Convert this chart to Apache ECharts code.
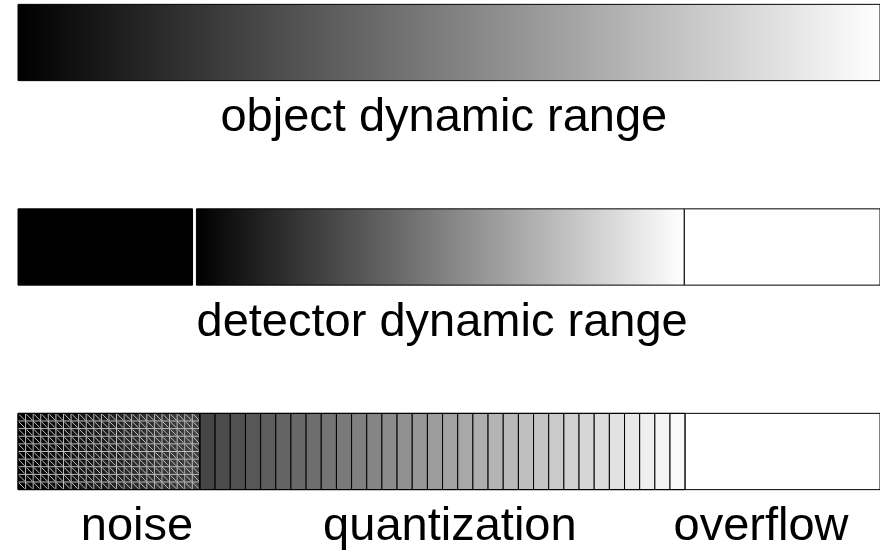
<!DOCTYPE html>
<html><head><meta charset="utf-8">
<script src="https://cdn.jsdelivr.net/npm/echarts@6/dist/echarts.min.js"></script>
<style>html,body{margin:0;padding:0;background:#fff}#c{width:880px;height:550px}</style>
</head><body><div id="c"></div>
<script>
// ---- data ----
// rows: 0 = object, 1 = detector, 2 = recorded (quantized)
const rowNames = ['object', 'detector', 'recorded'];
// segments, x in % of the object dynamic range
const segStart = [0,   0,     20.7, 77.3, 0,     21.1, 77.4];
const segEnd   = [100, 20.25, 77.3, 100,  21.1,  77.4, 100];
const segRow   = [0,   1,     1,    1,    2,     2,    2];
const segKind  = ['gradient', 'black', 'gradient', 'white', 'noise', 'quant', 'white'];
// quantization of the detector range into gray levels
const quantLevels = 44;
const detectorRange = [0, 77.4];
// labels
const labelText = ['object dynamic range', 'detector dynamic range', 'noise', 'quantization', 'overflow'];
const labelX = [49.4, 49.2, 13.8, 50.1, 86.2];
const labelRow = [0, 1, 2, 2, 2];

// ---- style ----
const BAR_FRAC = 0.373;      // bar height as fraction of row spacing
const LABEL_OFF = 0.37;      // label centre below bar centre, in rows
const HATCH_COLS = 24, HATCH_ROWS = 10;
const HATCH_COLOR = '#c0c0c0';
const FONT = "'Liberation Sans', Arial, sans-serif";

const segData = segStart.map((s, i) => [s, segEnd[i], segRow[i]]);
const labelData = labelText.map((t, i) => [labelX[i], labelRow[i]]);

function gray(k) {
  const g = Math.round(k / quantLevels * 255);
  return 'rgb(' + g + ',' + g + ',' + g + ')';
}

function renderSeg(params, api) {
  const s = api.value(0), e = api.value(1), r = api.value(2);
  const kind = segKind[params.dataIndex];
  const rowH = Math.abs(api.size([0, 1])[1]);
  const h = rowH * BAR_FRAC;
  const p0 = api.coord([s, r]), p1 = api.coord([e, r]);
  const x0 = p0[0], x1 = p1[0], y0 = p0[1] - h / 2, y1 = y0 + h;
  const w = x1 - x0;
  const ch = [];
  const outline = {type: 'rect', shape: {x: x0, y: y0, width: w, height: h},
    style: {fill: null, stroke: '#000', lineWidth: 1}};
  if (kind === 'gradient') {
    ch.push({type: 'rect', shape: {x: x0, y: y0, width: w, height: h},
      style: {fill: {type: 'linear', x: 0, y: 0, x2: 1, y2: 0,
        colorStops: [{offset: 0, color: '#000'}, {offset: 1, color: '#fff'}]}}});
  } else if (kind === 'black' || kind === 'white') {
    ch.push({type: 'rect', shape: {x: x0, y: y0, width: w, height: h},
      style: {fill: kind === 'black' ? '#000' : '#fff'}});
  } else {
    const step = (detectorRange[1] - detectorRange[0]) / quantLevels;
    for (let k = 0; k < quantLevels; k++) {
      const a = detectorRange[0] + k * step, b = a + step;
      if (b <= s + 1e-3 || a >= e - 1e-3) continue;
      const xa = api.coord([Math.max(a, s), r])[0];
      const xb = api.coord([Math.min(b, e), r])[0];
      ch.push({type: 'rect', shape: {x: xa, y: y0, width: xb - xa, height: h},
        style: {fill: gray(k), stroke: '#000', lineWidth: 1}});
    }
    if (kind === 'noise') {
      const cw = w / HATCH_COLS, chh = h / HATCH_ROWS;
      const ls = {stroke: HATCH_COLOR, lineWidth: 1};
      for (let i = 1; i < HATCH_COLS; i++) {
        ch.push({type: 'line', shape: {x1: x0 + i * cw, y1: y0, x2: x0 + i * cw, y2: y1}, style: ls});
      }
      for (let j = 1; j < HATCH_ROWS; j++) {
        ch.push({type: 'line', shape: {x1: x0, y1: y0 + j * chh, x2: x1, y2: y0 + j * chh}, style: ls});
      }
      for (let i = 0; i < HATCH_COLS; i++) {
        for (let j = 0; j < HATCH_ROWS; j++) {
          ch.push({type: 'line', shape: {x1: x0 + i * cw + 1, y1: y0 + j * chh + 1,
            x2: x0 + (i + 1) * cw - 1, y2: y0 + (j + 1) * chh - 1}, style: ls});
        }
      }
    }
  }
  ch.push(outline);
  return {type: 'group', children: ch};
}

function renderLabel(params, api) {
  const rowH = Math.abs(api.size([0, 1])[1]);
  const p = api.coord([api.value(0), api.value(1)]);
  return {type: 'text', x: p[0], y: p[1] + rowH * LABEL_OFF,
    style: {text: labelText[params.dataIndex], fill: '#000', fontSize: 47,
      fontFamily: FONT, align: 'center', verticalAlign: 'middle'}};
}

const chart = echarts.init(document.getElementById('c'), null, {renderer: 'canvas'});
chart.setOption({
  animation: false,
  backgroundColor: '#fff',
  grid: {left: 18, right: -2, top: 0, bottom: 0},
  xAxis: {type: 'value', min: 0, max: 100, show: false},
  yAxis: {type: 'value', inverse: true, min: -0.2078, max: 2.4817, show: false},
  series: [
    {type: 'custom', name: 'bars', renderItem: renderSeg, data: segData, clip: false,
      encode: {x: [0, 1], y: 2}},
    {type: 'custom', name: 'labels', renderItem: renderLabel, data: labelData, clip: false,
      encode: {x: 0, y: 1}}
  ]
});
</script></body></html>
